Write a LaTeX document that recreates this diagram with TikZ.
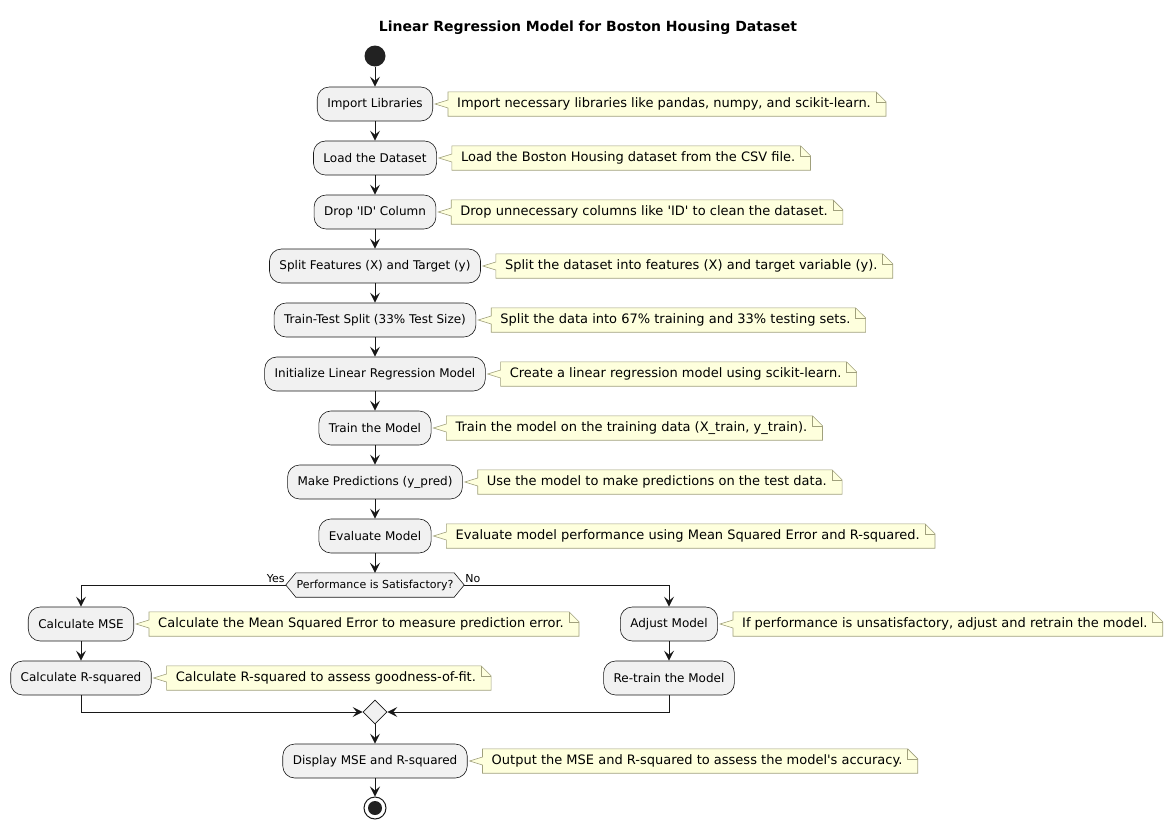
\documentclass[tikz,border=0pt]{standalone}
\usepackage{fontspec}
\setmainfont{DejaVu Sans}
\usetikzlibrary{positioning,arrows.meta,shapes.geometric}
\pgfdeclarelayer{background}
\pgfsetlayers{background,main}
\definecolor{boxfill}{HTML}{F1F1F1}
\definecolor{boxline}{HTML}{181818}
\definecolor{dotfill}{HTML}{222222}
\definecolor{notefill}{HTML}{FEFFDD}
\definecolor{noteline}{HTML}{A0A07C}
\tikzset{
  stepbox/.style={rectangle, rounded corners=12pt, draw=boxline, fill=boxfill, line width=0.6pt,
                  minimum height=34pt, inner xsep=10pt, font=\fontsize{12}{14}\selectfont},
  notebox/.style={rectangle, minimum height=24pt, inner xsep=9pt, font=\fontsize{13}{15}\selectfont,
                  right=15pt of #1},
  fwd/.style={-{Stealth[length=10pt,width=10pt,inset=4pt]}, line width=1pt, draw=boxline},
  small/.style={font=\fontsize{11}{13}\selectfont, inner sep=1pt},
}
% note with folded corner and a tail pointing at its box
\newcommand{\notefor}[3]{%
  \node[notebox=#2] (#1) {#3\hspace*{6pt}};
  \begin{pgfonlayer}{background}
    \filldraw[fill=notefill, draw=noteline, line width=0.6pt]
      (#1.north west) -- ([xshift=-10pt]#1.north east) -- ([yshift=-10pt]#1.north east)
      -- (#1.south east) -- (#1.south west) -- ([yshift=-4pt]#1.west)
      -- ([xshift=2pt]#2.east) -- ([yshift=4pt]#1.west) -- cycle;
    \draw[noteline, line width=0.6pt] ([xshift=-10pt]#1.north east) |- ([yshift=-10pt]#1.north east);
  \end{pgfonlayer}
}
\newcommand{\q}{\textquotesingle}

\begin{document}
\begin{tikzpicture}[x=1pt, y=-1pt]
  \useasboundingbox (0,0) rectangle (1176,830);
  \node[font=\bfseries\fontsize{14}{16}\selectfont] (title) at (588,28) {Linear Regression Model for Boston Housing Dataset};

  \node[circle, fill=dotfill, minimum size=21pt, inner sep=0pt] (start) at (375,56) {};

  \node[stepbox] (libs) at (375,104) {Import Libraries};
  \node[stepbox] (load) at (375,158) {Load the Dataset};
  \node[stepbox] (dropid) at (375,212) {Drop \q ID\q{} Column};
  \node[stepbox] (split) at (375,266) {Split Features (X) and Target (y)};
  \node[stepbox] (ttsplit) at (375,320) {Train-Test Split (33\% Test Size)};
  \node[stepbox] (initlr) at (375,374) {Initialize Linear Regression Model};
  \node[stepbox] (train) at (375,428) {Train the Model};
  \node[stepbox] (predict) at (375,482) {Make Predictions (y\_pred)};
  \node[stepbox] (evaluate) at (375,536) {Evaluate Model};

  \notefor{libsnote}{libs}{Import necessary libraries like pandas, numpy, and scikit-learn.}
  \notefor{loadnote}{load}{Load the Boston Housing dataset from the CSV file.}
  \notefor{dropnote}{dropid}{Drop unnecessary columns like \q ID\q{} to clean the dataset.}
  \notefor{splitnote}{split}{Split the dataset into features (X) and target variable (y).}
  \notefor{ttnote}{ttsplit}{Split the data into 67\% training and 33\% testing sets.}
  \notefor{initnote}{initlr}{Create a linear regression model using scikit-learn.}
  \notefor{trainnote}{train}{Train the model on the training data (X\_train, y\_train).}
  \notefor{prednote}{predict}{Use the model to make predictions on the test data.}
  \notefor{evalnote}{evaluate}{Evaluate model performance using Mean Squared Error and R-squared.}

  % decision
  \node[minimum width=178pt, minimum height=24pt, inner sep=0pt, font=\fontsize{11}{13}\selectfont] (decide) at (375,585) {Performance is Satisfactory?};
  \begin{pgfonlayer}{background}
    \filldraw[fill=boxfill, draw=boxline, line width=0.6pt]
      (decide.west) -- ([xshift=10pt]decide.north west) -- ([xshift=-10pt]decide.north east)
      -- (decide.east) -- ([xshift=-10pt]decide.south east) -- ([xshift=10pt]decide.south west) -- cycle;
  \end{pgfonlayer}
  \node[small, anchor=south east] (yes) at ([yshift=1pt]decide.west) {Yes};
  \node[small, anchor=south west] (no) at ([yshift=1pt]decide.east) {No};

  \node[stepbox] (mse) at (81,624) {Calculate MSE};
  \node[stepbox] (rsq) at (81,678) {Calculate R-squared};
  \node[stepbox] (adjust) at (669,624) {Adjust Model};
  \node[stepbox] (retrain) at (669,678) {Re-train the Model};

  \notefor{msenote}{mse}{Calculate the Mean Squared Error to measure prediction error.}
  \notefor{rsqnote}{rsq}{Calculate R-squared to assess goodness-of-fit.}
  \notefor{adjnote}{adjust}{If performance is unsatisfactory, adjust and retrain the model.}

  \node[diamond, draw=boxline, fill=boxfill, line width=0.6pt, minimum size=24pt, inner sep=0pt] (merge) at (375,712) {};

  \node[stepbox] (display) at (375,761) {Display MSE and R-squared};
  \notefor{dispnote}{display}{Output the MSE and R-squared to assess the model\q s accuracy.}

  \node[circle, draw=boxline, fill=white, line width=1pt, minimum size=22pt, inner sep=0pt] (stop) at (375,808) {};
  \node[circle, fill=dotfill, minimum size=14pt, inner sep=0pt] (stopdot) at (stop) {};

  \draw[fwd] (start) -- (libs);
  \draw[fwd] (libs) -- (load);
  \draw[fwd] (load) -- (dropid);
  \draw[fwd] (dropid) -- (split);
  \draw[fwd] (split) -- (ttsplit);
  \draw[fwd] (ttsplit) -- (initlr);
  \draw[fwd] (initlr) -- (train);
  \draw[fwd] (train) -- (predict);
  \draw[fwd] (predict) -- (evaluate);
  \draw[fwd] (evaluate) -- (decide.north);
  \draw[fwd] (decide.west) -| (mse.north);
  \draw[fwd] (decide.east) -| (adjust.north);
  \draw[fwd] (mse) -- (rsq);
  \draw[fwd] (adjust) -- (retrain);
  \draw[fwd] (rsq.south) |- (merge.west);
  \draw[fwd] (retrain.south) |- (merge.east);
  \draw[fwd] (merge) -- (display);
  \draw[fwd] (display) -- (stop);
\end{tikzpicture}
\end{document}
